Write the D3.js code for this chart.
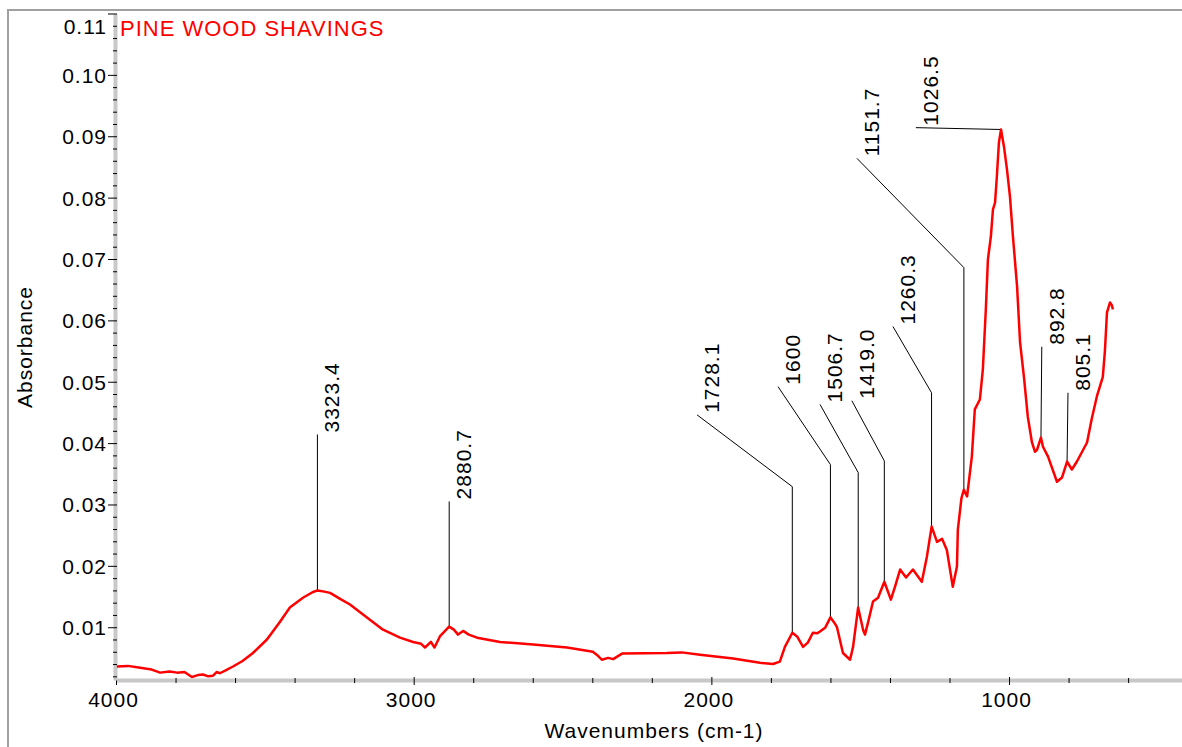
<!DOCTYPE html>
<html>
<head>
<meta charset="utf-8">
<script src="https://cdn.jsdelivr.net/npm/d3@7"></script>
<style>
  body { margin: 0; background: #fff; }
  svg text { font-family: Arial, "Liberation Sans", sans-serif; }
</style>
</head>
<body>
<svg id="chart"></svg>
<script>
// spectrum values
var wavenumbers = [
  3997, 3960, 3919, 3880, 3852, 3820, 3795, 3770, 3745, 3725,
  3708, 3690, 3674, 3662, 3651, 3630, 3607, 3575, 3540, 3493,
  3449, 3416, 3372, 3340, 3323, 3300, 3281, 3250, 3214, 3157,
  3103, 3046, 3002, 2975, 2962, 2942, 2930, 2912, 2881, 2865,
  2851, 2834, 2815, 2787, 2710, 2599, 2485, 2398, 2380, 2368,
  2347, 2330, 2300, 2149, 2100, 2038, 1927, 1837, 1793, 1770,
  1753, 1728, 1712, 1692, 1676, 1659, 1645, 1635, 1618, 1600,
  1585, 1578, 1558, 1534, 1524, 1507, 1490, 1484, 1474, 1457,
  1440, 1419, 1397, 1383, 1366, 1346, 1323, 1293, 1276, 1260,
  1242, 1225, 1209, 1189, 1175, 1172, 1160, 1152, 1141, 1125,
  1115, 1098, 1088, 1078, 1071, 1061, 1054, 1047, 1041, 1034,
  1027, 1017, 1007, 997, 987, 973, 963, 950, 937, 923,
  913, 906, 893, 886, 869, 839, 822, 805, 789, 772,
  738, 722, 705, 685, 678, 671, 661, 655, 651
];
var absorbance = [
  0.0036, 0.0037, 0.0034, 0.0031, 0.0026, 0.0028, 0.0026, 0.0027, 0.0019, 0.0022,
  0.0023, 0.0020, 0.0021, 0.0027, 0.0025, 0.0030, 0.0036, 0.0045, 0.0058, 0.0080,
  0.0109, 0.0132, 0.0148, 0.0157, 0.0160, 0.0158, 0.0156, 0.0147, 0.0137, 0.0116,
  0.0096, 0.0083, 0.0076, 0.0073, 0.0067, 0.0076, 0.0067, 0.0085, 0.0101, 0.0096,
  0.0088, 0.0094, 0.0088, 0.0083, 0.0076, 0.0072, 0.0067, 0.0060, 0.0053, 0.0047,
  0.0050, 0.0048, 0.0057, 0.0058, 0.0059, 0.0055, 0.0049, 0.0042, 0.0040, 0.0044,
  0.0068, 0.0091, 0.0085, 0.0068, 0.0075, 0.0091, 0.0090, 0.0093, 0.0099, 0.0116,
  0.0106, 0.0100, 0.0058, 0.0047, 0.0068, 0.0132, 0.0095, 0.0088, 0.0107, 0.0142,
  0.0148, 0.0174, 0.0145, 0.0166, 0.0194, 0.0181, 0.0194, 0.0174, 0.0215, 0.0264,
  0.0239, 0.0244, 0.0226, 0.0166, 0.0199, 0.0259, 0.0310, 0.0324, 0.0313, 0.0378,
  0.0455, 0.0471, 0.0520, 0.0618, 0.0699, 0.0737, 0.0781, 0.0792, 0.0834, 0.0890,
  0.0911, 0.0883, 0.0846, 0.0802, 0.0737, 0.0655, 0.0564, 0.0508, 0.0443, 0.0401,
  0.0386, 0.0389, 0.0409, 0.0394, 0.0378, 0.0337, 0.0344, 0.0370, 0.0357, 0.0370,
  0.0401, 0.0440, 0.0476, 0.0508, 0.0550, 0.0613, 0.0629, 0.0625, 0.0618
];

// picked peaks
var peakLabels = ['3323.4', '2880.7', '1728.1', '1600', '1506.7', '1419.0',
  '1260.3', '1151.7', '1026.5', '892.8', '805.1'];
var peakWavenumbers = [3323.4, 2880.7, 1728.1, 1600, 1506.7, 1419.0,
  1260.3, 1151.7, 1026.5, 892.8, 805.1];
var peakAbsorbance = [0.0160, 0.0101, 0.0091, 0.0116, 0.0132, 0.0174,
  0.0264, 0.0324, 0.0911, 0.0409, 0.0370];

var xMajor = [4000, 3000, 2000, 1000];
var yMajor = [0.01, 0.02, 0.03, 0.04, 0.05, 0.06, 0.07, 0.08, 0.09, 0.10, 0.11];

var title = 'PINE WOOD SHAVINGS';
var xTitle = 'Wavenumbers (cm-1)';
var yTitle = 'Absorbance';

document.addEventListener('DOMContentLoaded', () => {
  var W = 1182, H = 747;

  var x = d3.scaleLinear().domain([4000, 419]).range([116, 1182]);
  var y = d3.scaleLinear().domain([0.0014, 0.11]).range([680, 13.5]);

  var svg = d3.select('#chart').attr('width', W).attr('height', H);

  // frame (left + top only)
  svg.append('path')
    .attr('d', `M8,${H} L8,10 L${W},10`)
    .attr('fill', 'none')
    .attr('stroke', '#a0a0a0')
    .attr('stroke-width', 2);

  var xMinor = d3.range(4000, 599, -200).filter(d => xMajor.indexOf(d) < 0);
  var yMinor = d3.range(1, 56).map(i => +(i * 0.002).toFixed(3))
    .filter(d => yMajor.every(m => Math.abs(m - d) > 1e-6));

  // x axis
  var gx = svg.append('g').attr('transform', 'translate(0,680)');
  gx.call(d3.axisBottom(x).tickValues(xMajor).tickFormat(d3.format('d')).tickSizeOuter(0));
  gx.select('.domain').attr('stroke', '#c8c8c8').attr('stroke-width', 4);
  gx.selectAll('.tick line').attr('y1', -3).attr('y2', 5).attr('stroke', '#000');
  gx.selectAll('.tick text')
    .attr('y', 27).attr('dy', null).attr('dx', -3)
    .attr('font-size', 21).attr('letter-spacing', 1).attr('fill', '#000');
  gx.selectAll('.minor').data(xMinor).enter().append('line')
    .attr('class', 'minor')
    .attr('x1', d => x(d) + 0.5).attr('x2', d => x(d) + 0.5)
    .attr('y1', -2).attr('y2', 3)
    .attr('stroke', '#000');

  // y axis
  var gy = svg.append('g').attr('transform', 'translate(115,0)');
  gy.call(d3.axisLeft(y).tickValues(yMajor).tickFormat(d3.format('.2f')).tickSizeOuter(0));
  gy.select('.domain').attr('stroke', '#c8c8c8').attr('stroke-width', 4);
  gy.selectAll('.tick line').attr('x1', -7).attr('x2', 2).attr('stroke', '#000');
  gy.selectAll('.tick text')
    .attr('x', -8).attr('dy', null)
    .attr('y', d => d >= 0.11 ? 20 : 7.5)
    .attr('font-size', 21).attr('letter-spacing', 1).attr('fill', '#000');
  gy.selectAll('.minor').data(yMinor).enter().append('line')
    .attr('class', 'minor')
    .attr('y1', d => y(d) + 0.5).attr('y2', d => y(d) + 0.5)
    .attr('x1', -2).attr('x2', 2)
    .attr('stroke', '#000');

  // axis titles
  svg.append('text')
    .attr('x', 654).attr('y', 738)
    .attr('text-anchor', 'middle')
    .attr('font-size', 21).attr('letter-spacing', 1)
    .text(xTitle);
  svg.append('text')
    .attr('transform', 'translate(32,347) rotate(-90)')
    .attr('text-anchor', 'middle')
    .attr('font-size', 21).attr('letter-spacing', 1)
    .text(yTitle);

  svg.append('text')
    .attr('x', 120).attr('y', 36)
    .attr('font-size', 22).attr('letter-spacing', 1)
    .attr('fill', '#ff0000')
    .text(title);

  // callout placement in data units: label end point and elbow height
  var callouts = [
    { endWn: 3323.4, endAbs: 0.0414, elbowAbs: null },
    { endWn: 2880.7, endAbs: 0.0305, elbowAbs: null },
    { endWn: 2048, endAbs: 0.0446, elbowAbs: 0.0329 },
    { endWn: 1776, endAbs: 0.0492, elbowAbs: 0.0365 },
    { endWn: 1635, endAbs: 0.0463, elbowAbs: 0.0352 },
    { endWn: 1528, endAbs: 0.0469, elbowAbs: 0.0371 },
    { endWn: 1390, endAbs: 0.0590, elbowAbs: 0.0482 },
    { endWn: 1511, endAbs: 0.0864, elbowAbs: 0.0686 },
    { endWn: 1313, endAbs: 0.0914, elbowAbs: null },
    { endWn: 890, endAbs: 0.0557, elbowAbs: null },
    { endWn: 802, endAbs: 0.0482, elbowAbs: null }
  ];

  var peaks = peakLabels.map((t, i) => ({
    label: t, wn: peakWavenumbers[i], abs: peakAbsorbance[i], c: callouts[i]
  }));

  var leaders = svg.append('g');
  peaks.forEach(p => {
    var pts = [[x(p.wn), y(p.abs)]];
    if (p.c.elbowAbs !== null) pts.push([x(p.wn), y(p.c.elbowAbs)]);
    pts.push([x(p.c.endWn), y(p.c.endAbs)]);
    leaders.append('path')
      .attr('d', d3.line()(pts))
      .attr('fill', 'none')
      .attr('stroke', '#000')
      .attr('stroke-width', 1);
    var ex = x(p.c.endWn), ey = y(p.c.endAbs);
    leaders.append('text')
      .attr('transform', `translate(${ex + 22},${ey - 2}) rotate(-90)`)
      .attr('font-size', 21).attr('letter-spacing', 1)
      .text(p.label);
  });

  // spectrum
  var spectrum = wavenumbers.map((w, i) => [w, absorbance[i]]);
  svg.append('path')
    .datum(spectrum)
    .attr('fill', 'none')
    .attr('stroke', '#ff0000')
    .attr('stroke-width', 2.5)
    .attr('stroke-linejoin', 'round')
    .attr('d', d3.line().x(d => x(d[0])).y(d => y(d[1])));
});
</script>
</body>
</html>
